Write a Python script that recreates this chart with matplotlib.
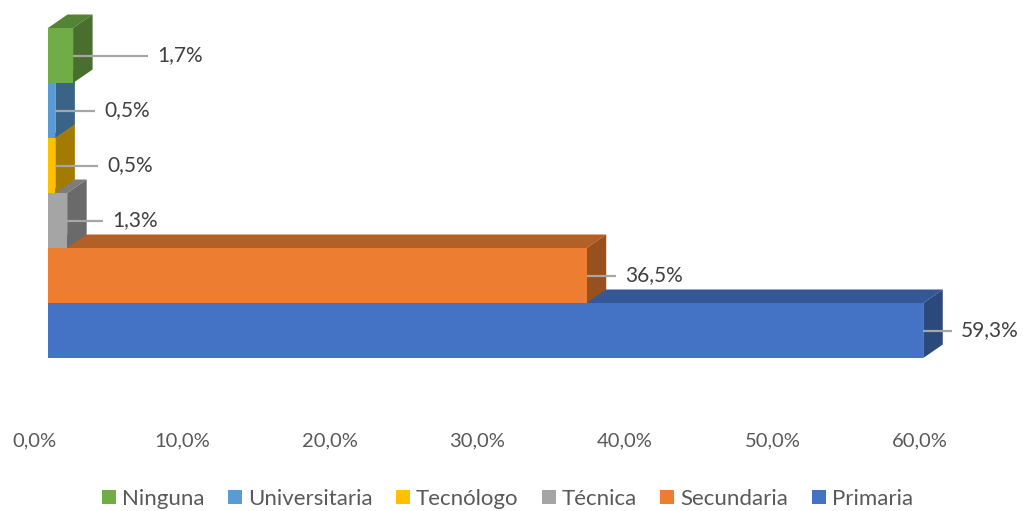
import matplotlib
matplotlib.use("Agg")
import matplotlib.pyplot as plt
from matplotlib.patches import Polygon, Patch
from matplotlib.colors import to_rgb

# ---- data ----
categories = ["Primaria", "Secundaria", "Técnica", "Tecnólogo", "Universitaria", "Ninguna"]
values = [59.3, 36.5, 1.3, 0.5, 0.5, 1.7]
value_labels = ["59,3%", "36,5%", "1,3%", "0,5%", "0,5%", "1,7%"]
xticks = [0, 10, 20, 30, 40, 50, 60]
xtick_labels = ["0,0%", "10,0%", "20,0%", "30,0%", "40,0%", "50,0%", "60,0%"]
legend_order = ["Ninguna", "Universitaria", "Tecnólogo", "Técnica", "Secundaria", "Primaria"]

# ---- style ----
colors = {"Primaria": "#4472C4", "Secundaria": "#ED7D31", "Técnica": "#A5A5A5",
          "Tecnólogo": "#FFC000", "Universitaria": "#5B9BD5", "Ninguna": "#70AD47"}
label_gap_px = [38, 38, 45, 52, 49, 84]   # label start offset from bar end (pixels)
FONT = "Lato"

W, H = 1023, 511
fig = plt.figure(figsize=(W / 100, H / 100), dpi=100)
ax = fig.add_axes([0, 0, 1, 1])
ax.set_axis_off()

X0 = 48.0          # pixel of 0%
PX = 14.76         # pixels per percent
BAND = 55.0        # pixels per category
YC0 = 330.5        # pixel (from top) of first category center
ax.set_xlim(-X0 / PX, (W - X0) / PX)
ax.set_ylim((YC0 - H) / BAND, YC0 / BAND)

dx = 19.5 / PX
dy = 13.5 / BAND


def shade(c, f):
    r, g, b = to_rgb(c)
    return (r * f, g * f, b * f)


for i, (cat, v) in enumerate(zip(categories, values)):
    c = colors[cat]
    z = 2 + i * 3
    top = Polygon([(0, i + 0.5), (v, i + 0.5), (v + dx, i + 0.5 + dy), (dx, i + 0.5 + dy)],
                  closed=True, facecolor=shade(c, 0.76), edgecolor="none", zorder=z)
    side = Polygon([(v, i - 0.5), (v + dx, i - 0.5 + dy), (v + dx, i + 0.5 + dy), (v, i + 0.5)],
                   closed=True, facecolor=shade(c, 0.64), edgecolor="none", zorder=z + 1)
    ax.add_patch(top)
    ax.add_patch(side)
    ax.barh(i, v, height=1.0, left=0, color=c, edgecolor="none", zorder=z + 2)

# leader lines and labels
for i, (v, lab, gap) in enumerate(zip(values, value_labels, label_gap_px)):
    x_end = v + (gap - 9) / PX
    ax.plot([v, x_end], [i, i], color="#A6A6A6", lw=1.6, zorder=50, solid_capstyle="butt")
    ax.text(v + gap / PX, i, lab, ha="left", va="center", fontsize=15,
            color="#404040", family=FONT, zorder=51)

# x tick labels
y_tick = (YC0 - 441) / BAND
for t, lab in zip(xticks, xtick_labels):
    ax.text(t - 13.5 / PX, y_tick, lab, ha="center", va="center", fontsize=14.5,
            color="#595959", family=FONT)

# legend
handles = [Patch(facecolor=colors[c], edgecolor="none", label=c) for c in legend_order]
leg = fig.legend(handles=handles, loc="center", bbox_to_anchor=(507.5 / W, 1 - 499 / H),
                 ncol=6, frameon=False, handlelength=0.63, handleheight=0.63,
                 handletextpad=0.27, columnspacing=1.05, borderpad=0.2,
                 prop={"family": FONT, "size": 16})
for t in leg.get_texts():
    t.set_color("#595959")

fig.savefig("out.png", dpi=100)
